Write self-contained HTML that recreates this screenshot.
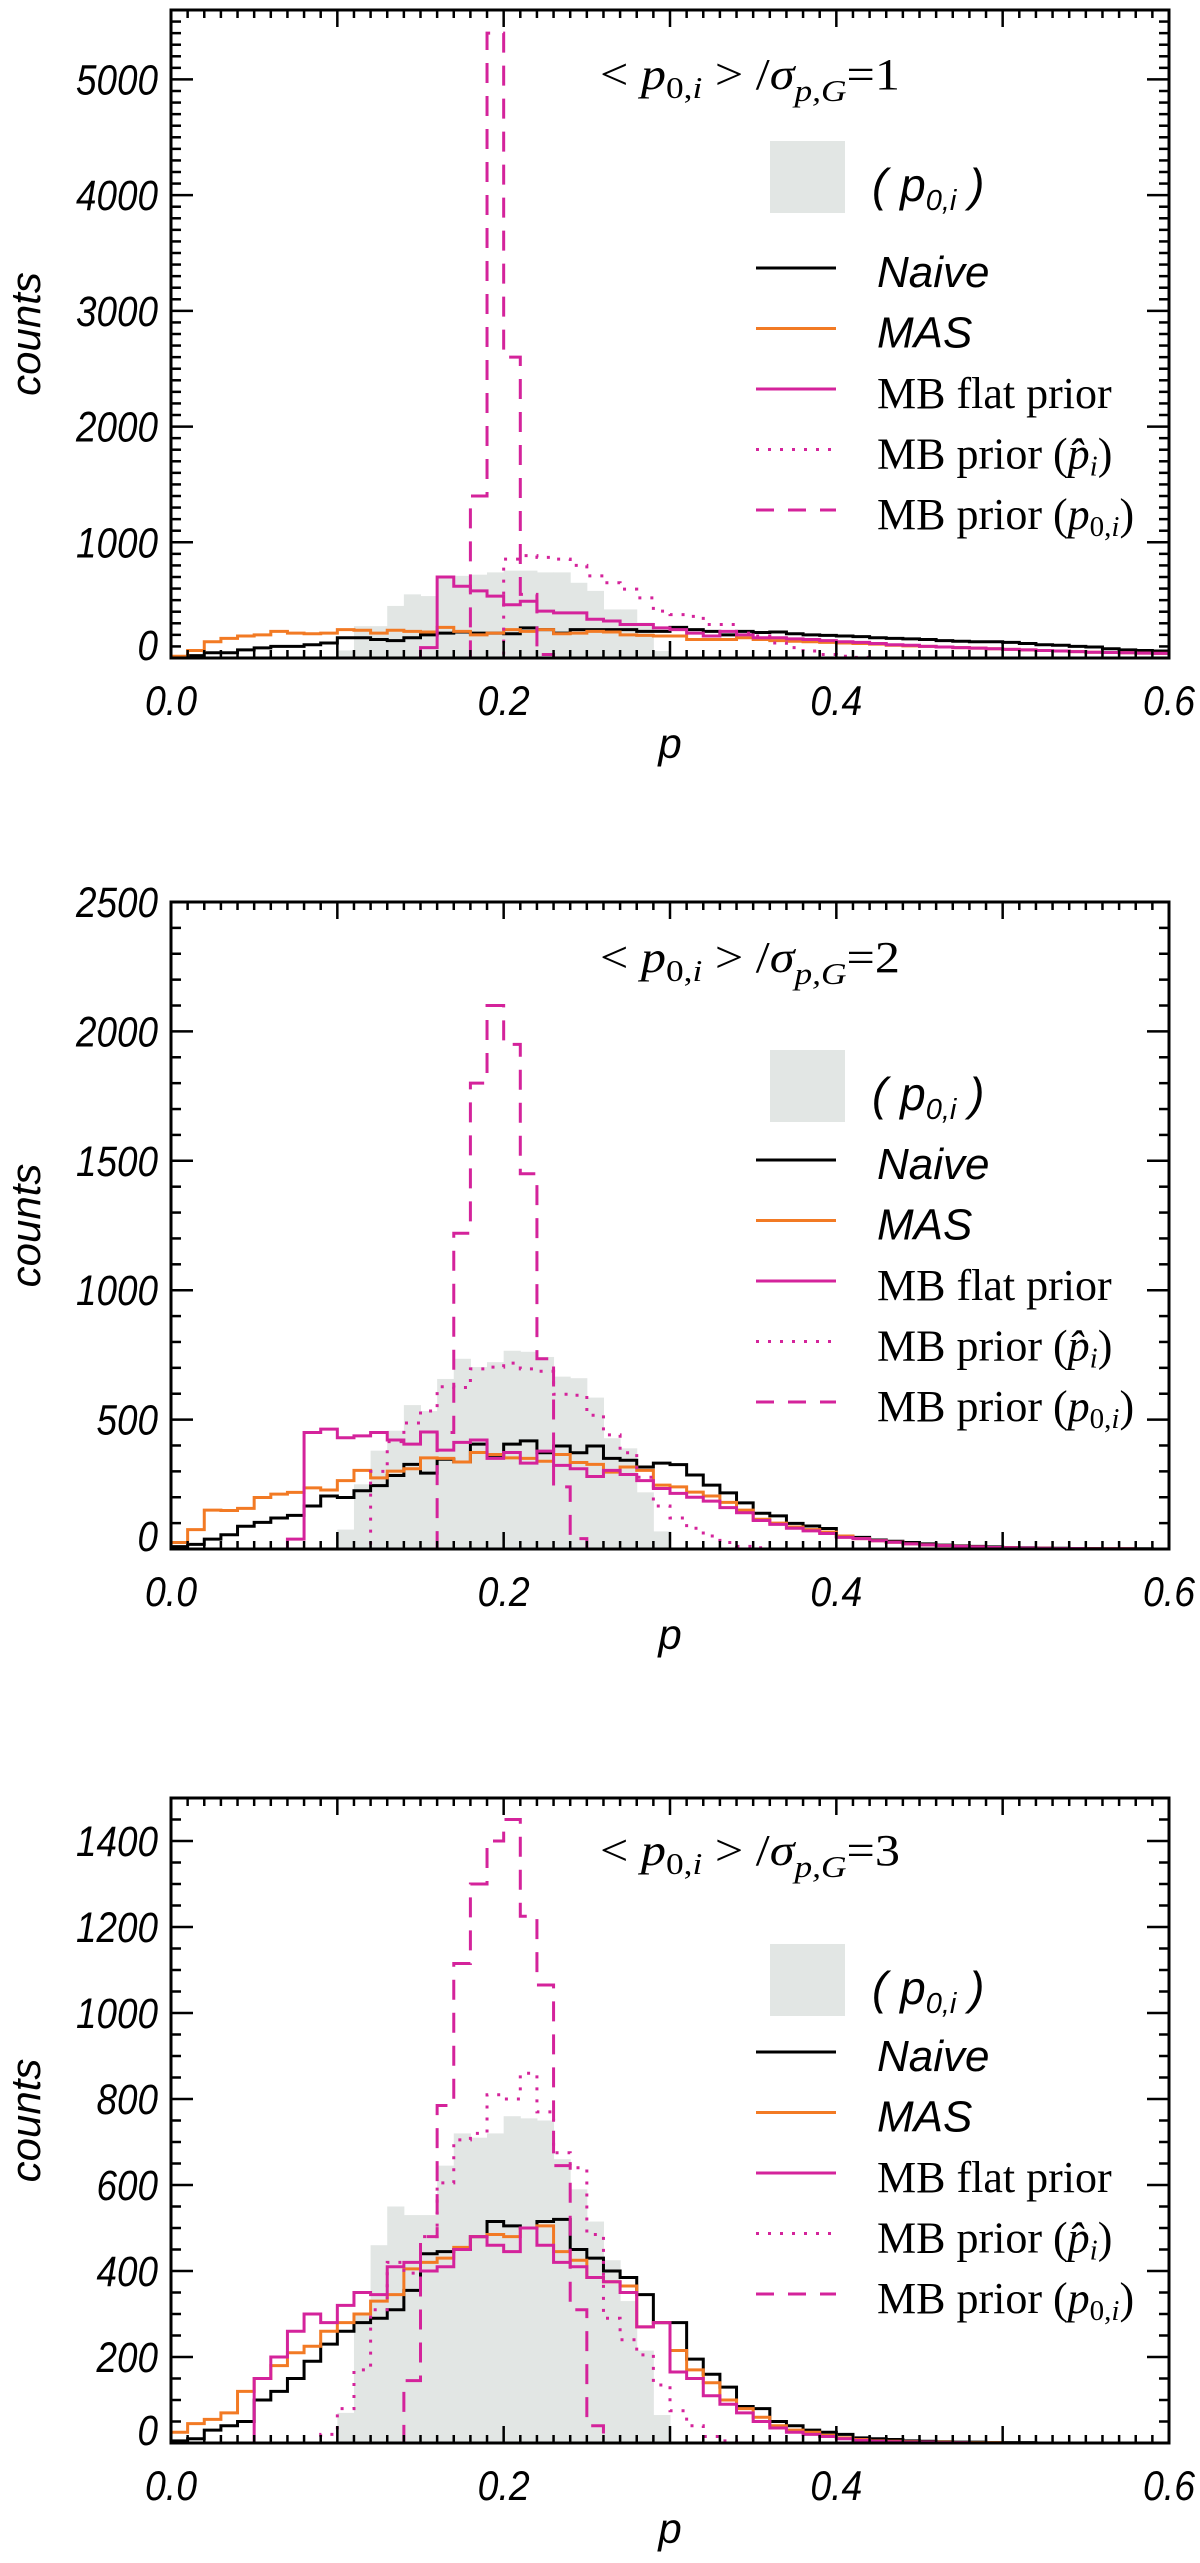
<!DOCTYPE html>
<html><head><meta charset="utf-8"><style>
html,body{margin:0;padding:0;background:#fff;}
svg{display:block;}
.num{font-family:"Liberation Sans",sans-serif;font-style:italic;fill:#000;}
.ser{font-family:"Liberation Serif",serif;fill:#000;}
</style></head><body>
<svg id="fig" width="1200" height="2563" viewBox="0 0 1200 2563" xmlns="http://www.w3.org/2000/svg"></svg>
<script>
// ---- shared x categories ----
const binEdges = Array.from({length:61},(_, i)=>i/100);
const xTickLabels = ["0.0","0.2","0.4","0.6"];
const xTickValues = [0,0.2,0.4,0.6];

// ---- panel 1 (ratio = 1) ----
const p1Gray  = [0,0,0,0,0,0,0,0,0,0,65,275,275,450,550,535,710,710,720,740,755,755,740,740,650,580,420,420,305,60,0,0,0,0,0,0,0,0,0,0,0,0,0,0,0,0,0,0,0,0,0,0,0,0,0,0,0,0,0,0];
const p1Naive = [5,20,45,45,70,87,100,100,115,130,175,175,160,150,175,200,215,225,215,215,210,260,245,215,245,245,245,245,230,230,265,245,230,200,230,220,225,210,200,195,190,185,175,170,165,160,150,145,140,140,135,125,115,110,100,95,80,70,65,60];
const p1Mas   = [15,65,140,170,190,200,230,215,210,215,245,240,215,240,230,225,265,230,200,215,245,230,245,210,215,230,225,200,195,190,190,160,160,160,175,160,150,145,140,135,130,125,120,110,105,100,95,90,85,80,75,70,65,60,55,50,48,45,42,40];
const p1Flat  = [0,0,0,0,0,0,0,0,0,0,0,0,0,0,0,90,700,620,580,535,460,490,405,390,390,335,320,290,290,260,245,215,190,230,200,175,175,165,160,150,140,135,125,115,110,100,95,90,85,80,75,70,65,60,55,50,48,45,42,40];
const p1Hat   = [0,0,0,0,0,0,0,0,0,0,0,0,0,0,0,0,0,0,0,0,855,885,870,855,800,710,650,595,520,405,375,360,290,290,215,190,130,90,60,30,15,5,0,0,0,0,0,0,0,0,0,0,0,0,0,0,0,0,0,0];
const p1P0    = [0,0,0,0,0,0,0,0,0,0,0,0,0,0,0,0,0,0,1400,5400,2600,550,30,0,0,0,0,0,0,0,0,0,0,0,0,0,0,0,0,0,0,0,0,0,0,0,0,0,0,0,0,0,0,0,0,0,0,0,0,0];
const p1YTicks = [0,1000,2000,3000,4000,5000];

// ---- panel 2 (ratio = 2) ----
const p2Gray  = [0,0,0,0,0,0,0,0,0,0,75,250,380,457,556,533,657,735,703,722,766,762,742,666,660,585,428,389,219,68,0,0,0,0,0,0,0,0,0,0,0,0,0,0,0,0,0,0,0,0,0,0,0,0,0,0,0,0,0,0];
const p2Naive = [9,18,38,55,88,103,120,130,166,205,199,225,245,284,327,293,347,336,405,362,405,418,372,398,372,398,350,343,317,332,326,286,247,217,178,138,128,99,89,79,49,45,35,30,25,20,15,12,10,8,6,5,4,3,2,2,1,1,1,0];
const p2Mas   = [25,75,150,149,157,199,212,219,236,228,264,304,275,301,310,352,350,336,373,365,352,350,339,365,334,327,297,317,304,247,240,220,205,180,150,115,100,85,75,65,50,40,32,26,20,16,13,10,8,6,5,4,3,2,2,1,1,1,0,0];
const p2Flat  = [0,0,0,0,0,0,0,38,450,463,430,437,450,421,405,452,382,412,421,350,373,332,378,323,310,280,304,288,264,234,215,200,185,160,140,110,95,80,70,60,45,40,32,26,20,16,13,10,8,6,5,4,3,2,2,1,1,1,0,0];
const p2Hat   = [0,0,0,0,0,0,0,0,0,0,0,0,300,415,487,533,627,624,696,703,718,696,687,598,594,517,441,372,277,166,120,80,50,25,10,5,0,0,0,0,0,0,0,0,0,0,0,0,0,0,0,0,0,0,0,0,0,0,0,0];
const p2P0    = [0,0,0,0,0,0,0,0,0,0,0,0,0,0,0,0,450,1220,1800,2100,1950,1450,735,240,40,0,0,0,0,0,0,0,0,0,0,0,0,0,0,0,0,0,0,0,0,0,0,0,0,0,0,0,0,0,0,0,0,0,0,0];
const p2YTicks = [0,500,1000,1500,2000,2500];

// ---- panel 3 (ratio = 3) ----
const p3Gray  = [0,0,0,0,0,0,0,0,0,0,70,300,460,550,530,530,645,720,710,720,760,755,750,660,590,515,425,330,215,65,0,0,0,0,0,0,0,0,0,0,0,0,0,0,0,0,0,0,0,0,0,0,0,0,0,0,0,0,0,0];
const p3Naive = [5,10,30,40,50,100,120,150,190,230,260,280,290,310,355,440,445,450,480,515,505,500,515,520,450,430,400,385,345,280,280,195,160,130,85,80,50,40,30,25,20,12,10,8,5,4,3,2,2,1,1,1,0,0,0,0,0,0,0,0];
const p3Mas   = [25,45,55,70,120,150,180,210,225,260,280,300,330,345,405,420,430,455,480,485,480,500,505,445,425,385,375,365,270,280,215,170,140,100,80,60,40,30,25,18,12,8,5,4,3,2,2,1,1,1,0,0,0,0,0,0,0,0,0,0];
const p3Flat  = [0,0,0,0,0,150,200,260,300,280,320,350,345,410,420,400,410,450,480,460,445,500,460,420,410,385,375,350,270,280,165,150,110,90,70,50,35,25,20,15,10,6,4,3,2,2,1,1,0,0,0,0,0,0,0,0,0,0,0,0];
const p3Hat   = [0,0,0,0,0,0,0,0,0,20,80,170,310,420,395,480,605,705,720,810,800,860,770,675,640,485,290,240,205,135,75,40,15,5,0,0,0,0,0,0,0,0,0,0,0,0,0,0,0,0,0,0,0,0,0,0,0,0,0,0];
const p3P0    = [0,0,0,0,0,0,0,0,0,0,0,0,0,0,145,480,785,1115,1300,1400,1450,1225,1065,645,310,40,0,0,0,0,0,0,0,0,0,0,0,0,0,0,0,0,0,0,0,0,0,0,0,0,0,0,0,0,0,0,0,0,0,0];
const p3YTicks = [0,200,400,600,800,1000,1200,1400];

const NS = "http://www.w3.org/2000/svg";
const svg = document.getElementById('fig');
const X0 = 171, X1 = 1169, XMAX = 0.6;
const ORANGE = "#f27a24", MAG = "#d4239b", GRAY = "#e2e6e4";

function mk(tag, attrs, parent){
  const e = document.createElementNS(NS, tag);
  for (const k in attrs) e.setAttribute(k, attrs[k]);
  (parent||svg).appendChild(e);
  return e;
}

function drawPanel(cfg){
  const g = mk('g', {});
  
  
  const xs = v => X0 + (v / XMAX) * (X1 - X0);
  const ys = v => cfg.bottom - (v / cfg.ymax) * (cfg.bottom - cfg.top);

  const gg = mk('g', {}, g);
  
  
  cfg.gray.forEach((v, i) => {
    if (v <= 0) return;
    const r = mk('rect', {x: xs(binEdges[i]), y: ys(v), width: xs(binEdges[i+1]) - xs(binEdges[i]) + 0.5, height: cfg.bottom - ys(v), fill: GRAY}, gg);
    
    
  });

  function step(vals, color, dash, name){
    let d = 'M' + xs(binEdges[0]) + ',' + ys(vals[0]);
    vals.forEach((v, i) => {
      if (i > 0) d += 'V' + ys(v);
      d += 'H' + xs(binEdges[i+1]);
    });
    const p = mk('path', {d: d, fill: 'none', stroke: color, 'stroke-width': 3, 'stroke-linejoin': 'miter'}, g);
    if (dash) p.setAttribute('stroke-dasharray', dash);
    
    
  }
  step(cfg.naive, '#000', null, 'naive-series');
  step(cfg.mas, ORANGE, null, 'mas-series');
  step(cfg.flat, MAG, null, 'mb-flat-prior-series');
  step(cfg.hat, MAG, '3 9', 'mb-prior-phat-series');
  step(cfg.p0, MAG, '20 13', 'mb-prior-p0-series');

  const tk = mk('g', {stroke: '#000', 'stroke-width': 2.5}, g);
  
  
  for (let i = 0; i <= 60; i++) {
    const x = xs(i / 100);
    const L = (i % 10 === 0) ? 17 : 8;
    mk('line', {x1: x, x2: x, y1: cfg.bottom, y2: cfg.bottom - L}, tk);
    mk('line', {x1: x, x2: x, y1: cfg.top, y2: cfg.top + L}, tk);
  }
  for (let v = 0; v <= cfg.ymax + 1e-6; v += cfg.minor) {
    const y = ys(v);
    const major = Math.abs(v / cfg.major - Math.round(v / cfg.major)) < 1e-6;
    const L = major ? 22 : 10;
    mk('line', {x1: X0, x2: X0 + L, y1: y, y2: y}, tk);
    mk('line', {x1: X1, x2: X1 - L, y1: y, y2: y}, tk);
  }
  const fr = mk('rect', {x: X0, y: cfg.top, width: X1 - X0, height: cfg.bottom - cfg.top, fill: 'none', stroke: '#000', 'stroke-width': 3}, g);
  
  

  cfg.yticks.forEach(v => {
    const s = String(v);
    const y = ys(v) + 15 - (v === 0 ? 13 : 0);
    const t = mk('text', {x: 158, y: y, 'text-anchor': 'end', class: 'num', style: 'font-size:43px', textLength: s.length * 20.5, lengthAdjust: 'spacingAndGlyphs'}, g);
    t.textContent = s;
    
    
  });
  xTickValues.forEach((v, i) => {
    const t = mk('text', {x: xs(v), y: cfg.bottom + 57, 'text-anchor': 'middle', class: 'num', style: 'font-size:42px', textLength: 52, lengthAdjust: 'spacingAndGlyphs'}, g);
    t.textContent = xTickLabels[i];
    
    
  });
  const xt = mk('text', {x: 670, y: cfg.bottom + 100, 'text-anchor': 'middle', class: 'num', style: 'font-size:42px'}, g);
  xt.textContent = 'p';
  
  
  const ym = (cfg.top + cfg.bottom) / 2;
  const yt = mk('text', {x: 40, y: ym, 'text-anchor': 'middle', class: 'num', style: 'font-size:42px', transform: 'rotate(-90 40 ' + ym + ')'}, g);
  yt.textContent = 'counts';
  
  

  const tt = mk('text', {x: 600, y: cfg.top + cfg.titleDy, class: 'ser', style: 'font-size:44px', textLength: 300, lengthAdjust: 'spacingAndGlyphs'}, g);
  tt.innerHTML = '&lt; <tspan font-style="italic">p</tspan><tspan style="font-size:31px" dy="9">0,<tspan font-style="italic">i</tspan></tspan><tspan dy="-9"> &gt; /</tspan><tspan font-style="italic">σ</tspan><tspan style="font-size:31px" dy="12" font-style="italic">p,G</tspan><tspan dy="-12">=' + cfg.ratio + '</tspan>';
  
  

  const lg = mk('g', {}, g);
  
  
  const bt = cfg.top + cfg.boxDy;
  const box = mk('rect', {x: 770, y: bt, width: 75, height: 72, fill: GRAY}, lg);
  
  
  const bl = mk('text', {x: 872, y: bt + 60, class: 'num', style: 'font-size:46px'}, lg);
  bl.innerHTML = '( p<tspan style="font-size:29px" dy="9">0,i</tspan><tspan dy="-9"> )</tspan>';
  
  
  const entries = [
    ['#000', null, 'Naive', true, 'legend-entry-naive'],
    [ORANGE, null, 'MAS', true, 'legend-entry-mas'],
    [MAG, null, 'MB flat prior', false, 'legend-entry-mb-flat'],
    [MAG, '3 9', 'MB prior (<tspan font-style="italic">p̂</tspan><tspan style="font-size:29px" dy="7" font-style="italic">i</tspan><tspan dy="-7">)</tspan>', false, 'legend-entry-mb-phat'],
    [MAG, '18 14', 'MB prior (<tspan font-style="italic">p</tspan><tspan style="font-size:29px" dy="7">0,<tspan font-style="italic">i</tspan></tspan><tspan dy="-7">)</tspan>', false, 'legend-entry-mb-p0']
  ];
  entries.forEach((e, i) => {
    const y = cfg.top + cfg.legDy + i * 60.5;
    const ln = mk('line', {x1: 756, x2: 836, y1: y, y2: y, stroke: e[0], 'stroke-width': 3}, lg);
    if (e[1]) ln.setAttribute('stroke-dasharray', e[1]);
    
    
    const t = mk('text', {x: 877, y: y + 19, class: e[3] ? 'num' : 'ser', style: e[3] ? 'font-size:44px' : 'font-size:44px'}, lg);
    t.innerHTML = e[2];
    
    
  });
}

drawPanel({name:'panel-ratio-1', top:10, bottom:658, ymax:5600, major:1000, minor:100, yticks:p1YTicks, ratio:1,
  gray:p1Gray, naive:p1Naive, mas:p1Mas, flat:p1Flat, hat:p1Hat, p0:p1P0, titleDy:79, boxDy:131, legDy:258});
drawPanel({name:'panel-ratio-2', top:902, bottom:1549, ymax:2500, major:500, minor:100, yticks:p2YTicks, ratio:2,
  gray:p2Gray, naive:p2Naive, mas:p2Mas, flat:p2Flat, hat:p2Hat, p0:p2P0, titleDy:70, boxDy:148, legDy:258});
drawPanel({name:'panel-ratio-3', top:1798, bottom:2443, ymax:1500, major:200, minor:50, yticks:p3YTicks, ratio:3,
  gray:p3Gray, naive:p3Naive, mas:p3Mas, flat:p3Flat, hat:p3Hat, p0:p3P0, titleDy:67, boxDy:146, legDy:254});
</script>
</body></html>
